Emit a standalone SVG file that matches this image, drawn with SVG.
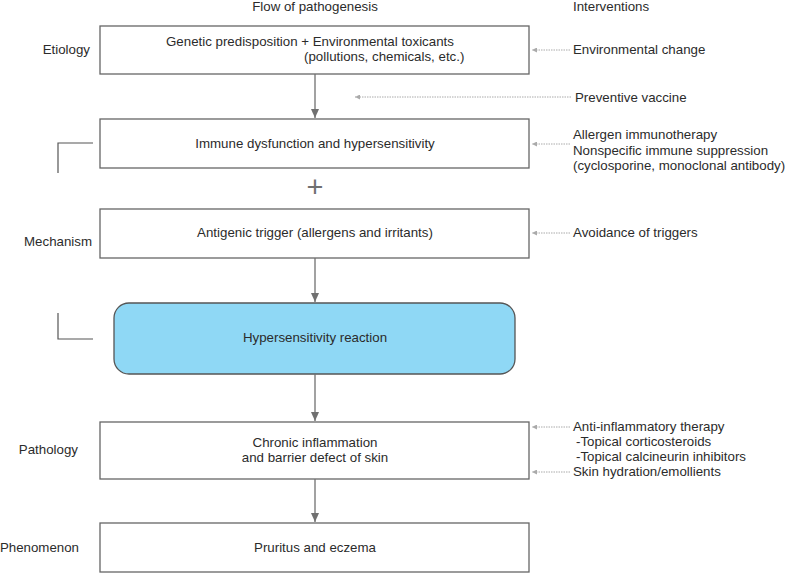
<svg xmlns="http://www.w3.org/2000/svg" width="785" height="573" viewBox="0 0 785 573">
<defs>
<style>
text{font-family:"Liberation Sans",Arial,sans-serif;font-size:13.3px;fill:#2b2b2b}
.c{text-anchor:middle}
.box{fill:#fff;stroke:#666;stroke-width:1.3}
.flow{stroke:#707070;stroke-width:1.3;fill:none}
.dot{stroke:#aaa;stroke-width:1;stroke-dasharray:1.5 1;fill:none}
.br{stroke:#555;stroke-width:1.2;fill:none}
</style>
<marker id="ah" markerWidth="10" markerHeight="8" refX="9" refY="4" orient="auto" markerUnits="userSpaceOnUse"><path d="M0,0 L9,4 L0,8 Z" fill="#707070"/></marker>
<marker id="dh" markerWidth="6" markerHeight="5" refX="5" refY="2.5" orient="auto" markerUnits="userSpaceOnUse"><path d="M0,0 L5,2.5 L0,5 Z" fill="#aaa"/></marker>
</defs>
<rect width="785" height="573" fill="#fff"/>
<g id="headers">
<text x="315" y="11" class="c">Flow of pathogenesis</text>
<text x="573" y="11">Interventions</text>
</g>
<g id="stage-labels">
<text x="90" y="54" text-anchor="end">Etiology</text>
<text x="92" y="246" text-anchor="end">Mechanism</text>
<text x="78" y="454" text-anchor="end">Pathology</text>
<text x="79" y="552" text-anchor="end">Phenomenon</text>
</g>
<g id="brackets">
<path class="br" d="M93,143 H58 V173"/>
<path class="br" d="M58,313 V339 H93"/>
</g>
<g id="node-etiology">
<rect class="box" x="100" y="26" width="429" height="48"/>
<text x="166" y="46">Genetic predisposition + Environmental toxicants</text>
<text x="304" y="61">(pollutions, chemicals, etc.)</text>
</g>
<g id="node-immune">
<rect class="box" x="100" y="119" width="429" height="49"/>
<text x="315" y="148" class="c">Immune dysfunction and hypersensitivity</text>
</g>
<g id="plus">
<text x="315" y="197" class="c" style="font-size:29px;fill:#707070">+</text>
</g>
<g id="node-trigger">
<rect class="box" x="100" y="209" width="429" height="49"/>
<text x="315" y="237" class="c">Antigenic trigger (allergens and irritants)</text>
</g>
<g id="node-reaction">
<rect x="114" y="303" width="401" height="71" rx="15" ry="15" fill="#8fd8f5" stroke="#555" stroke-width="1.3"/>
<text x="315" y="342" class="c">Hypersensitivity reaction</text>
</g>
<g id="node-pathology">
<rect class="box" x="100" y="422" width="429" height="57"/>
<text x="315" y="447" class="c">Chronic inflammation</text>
<text x="315" y="462" class="c">and barrier defect of skin</text>
</g>
<g id="node-phenomenon">
<rect class="box" x="100" y="523" width="429" height="49"/>
<text x="315" y="552" class="c">Pruritus and eczema</text>
</g>
<g id="interventions">
<text x="573" y="54">Environmental change</text>
<text x="575" y="102">Preventive vaccine</text>
<text x="573" y="139">Allergen immunotherapy</text>
<text x="573" y="155">Nonspecific immune suppression</text>
<text x="573" y="170">(cyclosporine, monoclonal antibody)</text>
<text x="573" y="237">Avoidance of triggers</text>
<text x="573" y="431">Anti-inflammatory therapy</text>
<text x="576" y="446">-Topical corticosteroids</text>
<text x="576" y="461">-Topical calcineurin inhibitors</text>
<text x="573" y="476">Skin hydration/emollients</text>
</g>
<g id="connectors">
<line class="flow" x1="315" y1="74" x2="315" y2="118" marker-end="url(#ah)"/>
<line class="flow" x1="315" y1="258" x2="315" y2="302" marker-end="url(#ah)"/>
<line class="flow" x1="315" y1="374" x2="315" y2="421" marker-end="url(#ah)"/>
<line class="flow" x1="315" y1="479" x2="315" y2="522" marker-end="url(#ah)"/>
<line class="dot" x1="570" y1="50" x2="532" y2="50" marker-end="url(#dh)"/>
<line class="dot" x1="571" y1="97" x2="355" y2="97" marker-end="url(#dh)"/>
<line class="dot" x1="570" y1="144" x2="532" y2="144" marker-end="url(#dh)"/>
<line class="dot" x1="570" y1="233" x2="532" y2="233" marker-end="url(#dh)"/>
<line class="dot" x1="570" y1="427" x2="532" y2="427" marker-end="url(#dh)"/>
<line class="dot" x1="570" y1="472" x2="532" y2="472" marker-end="url(#dh)"/>
</g>
</svg>
